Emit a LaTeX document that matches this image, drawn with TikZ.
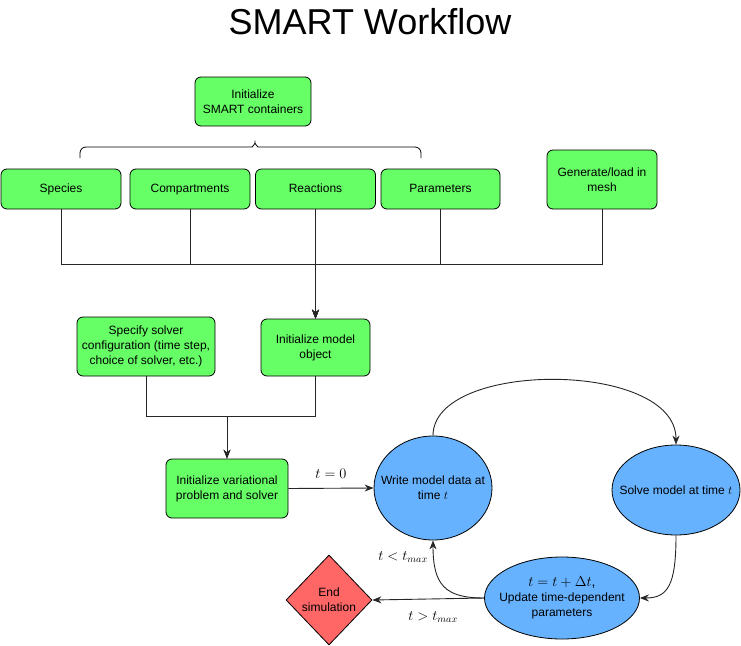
\documentclass[tikz,border=0pt]{standalone}
\usepackage{fontspec}
\setmainfont{Liberation Sans}
\usetikzlibrary{shapes.geometric,arrows.meta}
\definecolor{gfill}{HTML}{66FF66}
\definecolor{bfill}{HTML}{66B2FF}
\definecolor{rfill}{HTML}{FF6666}
\begin{document}
\begin{tikzpicture}[x=1pt,y=-1pt,
  box/.style={draw=black, fill=gfill, rounded corners=6pt, line width=0.8pt, align=center,
    font=\fontsize{12}{15}\selectfont, inner sep=2pt},
  ell/.style={draw=black, fill=bfill, ellipse, line width=0.8pt, inner sep=0pt},
  lbl/.style={align=center, font=\fontsize{12}{15}\selectfont, inner sep=0pt},
  mlbl/.style={font=\fontsize{14.5}{16}\selectfont, inner sep=0pt},
  conn/.style={line width=0.9pt, draw=black!85},
  arr/.style={conn, -{Stealth[length=9pt,width=7pt]}}
]
\useasboundingbox (0,0) rectangle (741,645);

\node[font=\fontsize{36}{40}\selectfont, inner sep=0pt] (title) at (370,22) {SMART Workflow};

% top boxes
\node[box, minimum width=116, minimum height=49] (isc) at (253,101.5) {Initialize\\SMART containers};
\node[box, minimum width=120, minimum height=40] (sp) at (61,189) {\strut Species};
\node[box, minimum width=120, minimum height=40] (co) at (190,189) {\strut Compartments};
\node[box, minimum width=120, minimum height=40] (re) at (315.5,189) {\strut Reactions};
\node[box, minimum width=119, minimum height=40] (pa) at (440.5,189) {\strut Parameters};
\node[box, minimum width=110, minimum height=59] (me) at (602,179.5) {Generate/load in\\mesh};

% brace
\draw[line width=0.8pt] [rounded corners=6pt] (80,158) -- (80,147) -- (246,147)
  .. controls (252,147) and (255,144) .. (255,137)
  .. controls (255,144) and (258,147) .. (264,147) -- (421,147) -- (421,158);

% middle boxes
\node[box, minimum width=109, minimum height=57] (im) at (315.5,347.5) {Initialize model\\object};
\node[box, minimum width=138, minimum height=59] (ss) at (146,346.5) {Specify solver\\configuration (time step,\\choice of solver, etc.)};
\node[box, minimum width=122, minimum height=59] (iv) at (227,488.5) {Initialize variational\\problem and solver};

% junctions
\coordinate (j1) at (315.5,264);
\coordinate (j2) at (227,416);

\draw[arr] (sp.south) |- (j1) -- (im.north);
\draw[arr] (co.south) |- (j1) -- (im.north);
\draw[arr] (re.south) -- (im.north);
\draw[arr] (pa.south) |- (j1) -- (im.north);
\draw[arr] (me.south) |- (j1) -- (im.north);

\draw[arr] (ss.south) |- (j2) -- (iv.north);
\draw[arr] (im.south) |- (j2) -- (iv.north);

% ellipses
\node[ell, minimum width=118, minimum height=104] (wr) at (433,488) {};
\node[lbl] at (wr.center) {Write model data at\\time $t$};
\node[ell, minimum width=128, minimum height=90] (so) at (676,490) {};
\node[lbl] at (so.center) {Solve model at time $t$};
\node[ell, minimum width=155, minimum height=82] (up) at (562,598) {};
\node[lbl] at (up.center) {{\fontsize{14}{15}\selectfont$t = t + \Delta t$,}\\Update time-dependent\\parameters};

% diamond
\node[diamond, draw=black, fill=rfill, line width=0.8pt, minimum width=86, minimum height=90, inner sep=0pt] (en) at (329,600) {};
\node[lbl] at (en.center) {End\\simulation};

% connectors
\draw[arr] (iv.east) -- node[mlbl, above=9pt] {$t = 0$} (wr.west);
\draw[arr] (wr.north) .. controls (433,360) and (676,360) .. (so.north);
\draw[arr] (so.south) .. controls (676,585) and (668,598) .. (up.east);
\draw[arr] (up.west) .. controls (445,598) and (433,585) .. (wr.south);
\draw[arr] (up.west) -- (en.east);

\node[mlbl] (lt) at (403,557) {$t < t_{max}$};
\node[mlbl] (gt) at (433,617) {$t > t_{max}$};
\end{tikzpicture}
\end{document}
